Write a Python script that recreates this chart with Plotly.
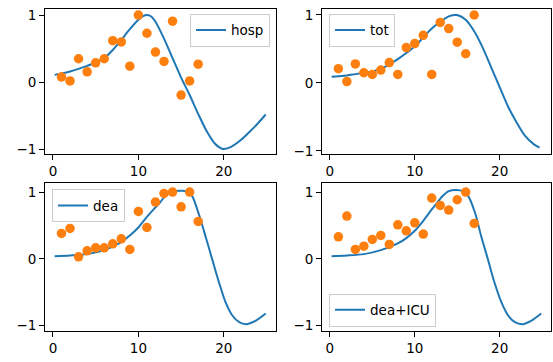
import plotly.graph_objects as go

# ---------------- data ----------------
days = list(range(1, 18))

hosp_obs = [0.08, 0.02, 0.35, 0.155, 0.29, 0.35, 0.62, 0.60, 0.24, 1.00,
            0.73, 0.45, 0.31, 0.91, -0.19, 0.02, 0.27]
tot_obs = [0.21, 0.02, 0.28, 0.15, 0.125, 0.19, 0.30, 0.125, 0.52, 0.58,
           0.70, 0.125, 0.89, 0.80, 0.60, 0.43, 1.00]
dea_obs = [0.38, 0.455, 0.03, 0.12, 0.165, 0.165, 0.225, 0.30, 0.14, 0.71,
           0.47, 0.85, 0.98, 1.00, 0.78, 1.00, 0.56]
deaicu_obs = [0.33, 0.64, 0.14, 0.19, 0.29, 0.35, 0.215, 0.51, 0.42, 0.54,
              0.37, 0.91, 0.80, 0.73, 0.885, 1.00, 0.53]

hosp_fit_x = [0.2, 1, 2, 3, 4, 5, 6, 7, 8, 9, 10, 10.5, 11, 11.5, 12, 13, 14,
              15, 16, 17, 18, 19, 19.8, 20.5, 21, 22, 23, 24, 24.9]
hosp_fit_y = [0.11, 0.13, 0.16, 0.2, 0.245, 0.295, 0.36, 0.48, 0.63, 0.79,
              0.93, 0.98, 1.0, 0.98, 0.9, 0.65, 0.36, 0.07, -0.19, -0.47,
              -0.73, -0.92, -0.99, -0.98, -0.95, -0.86, -0.74, -0.61, -0.48]

tot_fit_x = [0.2, 1, 2, 3, 4, 5, 6, 7, 8, 9, 10, 11, 12, 13, 14, 14.7, 15,
             16, 17, 18, 19, 20, 21, 22, 23, 24, 24.7]
tot_fit_y = [0.09, 0.10, 0.11, 0.13, 0.15, 0.17, 0.21, 0.27, 0.35, 0.44,
             0.54, 0.67, 0.8, 0.9, 0.98, 1.0, 1.0, 0.93, 0.76, 0.52, 0.23,
             -0.06, -0.35, -0.58, -0.78, -0.9, -0.95]

dea_fit_x = [0.2, 2, 4, 6, 8, 9, 10, 11, 12, 12.5, 13, 13.5, 14, 15, 15.75,
             16.3, 17.1, 17.9, 18.67, 19.45, 20.2, 21, 21.8, 22.6, 23.7, 24.9]
dea_fit_y = [0.04, 0.05, 0.07, 0.13, 0.25, 0.35, 0.47, 0.63, 0.77, 0.84,
             0.92, 0.98, 1.01, 1.02, 1.01, 0.94, 0.66, 0.32, -0.02, -0.36,
             -0.65, -0.85, -0.95, -0.98, -0.93, -0.82]

deaicu_fit_x = [0.2, 2, 4, 6, 8, 9, 10, 11, 12, 12.4, 13.2, 13.95, 14.9,
                15.7, 16.3, 17.1, 17.8, 18.6, 19.4, 20.2, 21, 21.8, 22.7,
                23.7, 24.9]
deaicu_fit_y = [0.04, 0.05, 0.07, 0.13, 0.23, 0.31, 0.42, 0.57, 0.74, 0.8,
                0.93, 1.01, 1.03, 1.01, 0.94, 0.69, 0.35, 0.0, -0.36, -0.65,
                -0.85, -0.95, -0.98, -0.93, -0.82]

labels = ["hosp", "tot", "dea", "dea+ICU"]
x_ticks = [0, 10, 20]
y_ticks = [-1, 0, 1]
y_ticktext = ["\u22121", "0", "1"]

# ---------------- figure ----------------
BLUE = "#1f77b4"
ORANGE = "#ff7f0e"
W, H = 553, 362

fits = [(hosp_fit_x, hosp_fit_y), (tot_fit_x, tot_fit_y),
        (dea_fit_x, dea_fit_y), (deaicu_fit_x, deaicu_fit_y)]
obs = [hosp_obs, tot_obs, dea_obs, deaicu_obs]

fig = go.Figure()
for i in range(4):
    ax = "" if i == 0 else str(i + 1)
    leg = "legend" if i == 0 else "legend" + str(i + 1)
    fx, fy = fits[i]
    fig.add_trace(go.Scatter(x=fx, y=fy, mode="lines", name=labels[i],
                             line=dict(color=BLUE, width=2, shape="spline", smoothing=0.8),
                             xaxis="x" + ax, yaxis="y" + ax, legend=leg))
    fig.add_trace(go.Scatter(x=days, y=obs[i], mode="markers", showlegend=False,
                             marker=dict(color=ORANGE, size=9.5, line=dict(width=0)),
                             xaxis="x" + ax, yaxis="y" + ax))

xdoms = [[45 / W, 275.5 / W], [322 / W, 551 / W]]
ydoms = [[1 - 155 / H, 1 - 7 / H], [1 - 335 / H, 1 - 185 / H]]
yranges = [[-1.068, 1.093], [-1.045, 1.09], [-1.075, 1.13], [-1.075, 1.13]]

font = dict(family="DejaVu Sans", size=13.5, color="#000000")
layout = dict(width=W, height=H, margin=dict(l=0, r=0, t=0, b=0),
              paper_bgcolor="white", plot_bgcolor="white", font=font)

for i in range(4):
    ax = "" if i == 0 else str(i + 1)
    col, row = i % 2, i // 2
    common = dict(showgrid=False, zeroline=False, showline=True, mirror=True,
                  linecolor="black", linewidth=1, ticks="outside", ticklen=5,
                  tickwidth=1, tickcolor="black", tickfont=font)
    layout["xaxis" + ax] = dict(domain=xdoms[col], range=[-0.93, 26.05],
                                tickvals=x_ticks, anchor="y" + ax, **common)
    layout["yaxis" + ax] = dict(domain=ydoms[row], range=yranges[i],
                                tickvals=y_ticks, ticktext=y_ticktext,
                                anchor="x" + ax, **common)

legbase = dict(bgcolor="rgba(255,255,255,0.8)", bordercolor="#cccccc",
               borderwidth=1, font=font, itemwidth=30, tracegroupgap=0)
layout["legend"] = dict(x=270 / W, y=1 - 12 / H, xanchor="right", yanchor="top", **legbase)
layout["legend2"] = dict(x=329 / W, y=1 - 12 / H, xanchor="left", yanchor="top", **legbase)
layout["legend3"] = dict(x=52 / W, y=1 - 191 / H, xanchor="left", yanchor="top", **legbase)
layout["legend4"] = dict(x=329 / W, y=1 - 331 / H, xanchor="left", yanchor="bottom", **legbase)

fig.update_layout(**layout)
fig.write_html("out.html")
